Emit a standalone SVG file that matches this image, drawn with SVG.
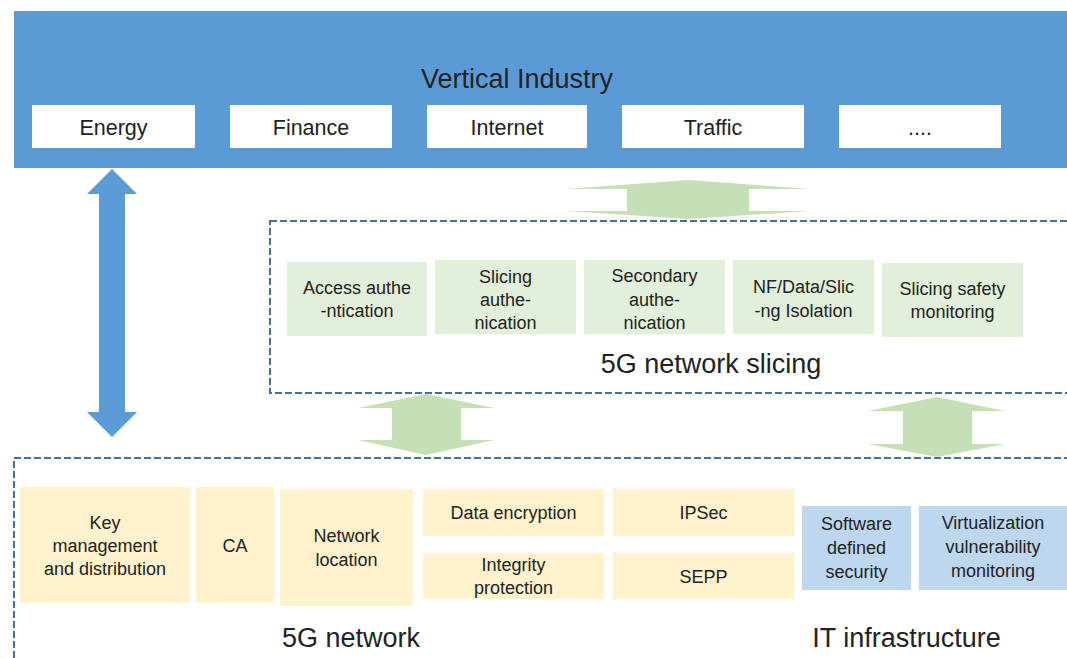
<svg xmlns="http://www.w3.org/2000/svg" width="1067" height="658" viewBox="0 0 1067 658">
<style>
text{font-family:"Liberation Sans",Arial,sans-serif;fill:#222;text-anchor:middle}
.lbl{font-size:21.5px}
.big{font-size:27px}
.bx{font-size:18px}
.white{fill:#fff}
.slice{fill:#e2efda}
.yel{fill:#fff2cc}
.lb{fill:#bdd7ee}
.dash{fill:none;stroke:#41719c;stroke-width:2;stroke-dasharray:7 3}
.garrow{fill:#c5e0b4}
.barrow{fill:#5b9bd5}
</style>
<rect width="1067" height="658" fill="#fff"/>
<g id="vertical-industry">
<rect x="14" y="11" width="1060" height="157" fill="#5b9bd5"/>
<text class="big" x="517" y="88">Vertical Industry</text>
</g>
<g id="energy"><rect class="white" x="32" y="105" width="163" height="43"/><text class="lbl" x="113.5" y="135">Energy</text></g>
<g id="finance"><rect class="white" x="230" y="105" width="162" height="43"/><text class="lbl" x="311" y="135">Finance</text></g>
<g id="internet"><rect class="white" x="427" y="105" width="160" height="43"/><text class="lbl" x="507" y="135">Internet</text></g>
<g id="traffic"><rect class="white" x="622" y="105" width="182" height="43"/><text class="lbl" x="713" y="135">Traffic</text></g>
<g id="more"><rect class="white" x="839" y="105" width="162" height="43"/><text class="lbl" x="920" y="135">....</text></g>

<g id="network-slicing">
<rect class="dash" x="270" y="221" width="810" height="172"/>
<text class="big" x="711" y="373">5G network slicing</text>
</g>
<g id="access-auth"><rect class="slice" x="287" y="262" width="140" height="74"/><text class="bx" x="357" y="294">Access authe</text><text class="bx" x="357" y="317">-ntication</text></g>
<g id="slicing-auth"><rect class="slice" x="435" y="260" width="141" height="74"/><text class="bx" x="505.5" y="283">Slicing</text><text class="bx" x="505.5" y="306">authe-</text><text class="bx" x="505.5" y="329">nication</text></g>
<g id="secondary-auth"><rect class="slice" x="584" y="260" width="141" height="74"/><text class="bx" x="654.5" y="282">Secondary</text><text class="bx" x="654.5" y="306">authe-</text><text class="bx" x="654.5" y="329">nication</text></g>
<g id="isolation"><rect class="slice" x="733" y="260" width="141" height="74"/><text class="bx" x="803.5" y="293">NF/Data/Slic</text><text class="bx" x="803.5" y="317">-ng Isolation</text></g>
<g id="slicing-monitoring"><rect class="slice" x="882" y="263" width="141" height="74"/><text class="bx" x="952.5" y="295">Slicing safety</text><text class="bx" x="952.5" y="318">monitoring</text></g>

<g id="network-5g">
<rect class="dash" x="14" y="458" width="1070" height="220"/>
<text class="big" x="351" y="647">5G network</text>
<text class="big" x="906.5" y="647">IT infrastructure</text>
</g>
<g id="key-mgmt"><rect class="yel" x="20" y="487" width="170" height="116"/><text class="bx" x="105" y="529">Key</text><text class="bx" x="105" y="552">management</text><text class="bx" x="105" y="575">and distribution</text></g>
<g id="ca"><rect class="yel" x="196" y="487" width="78" height="116"/><text class="bx" x="235" y="552">CA</text></g>
<g id="net-location"><rect class="yel" x="280" y="489" width="133" height="117"/><text class="bx" x="346.5" y="542">Network</text><text class="bx" x="346.5" y="566">location</text></g>
<g id="data-encryption"><rect class="yel" x="423" y="489" width="181" height="47"/><text class="bx" x="513.5" y="519">Data encryption</text></g>
<g id="integrity"><rect class="yel" x="423" y="553" width="181" height="46"/><text class="bx" x="513.5" y="571">Integrity</text><text class="bx" x="513.5" y="594">protection</text></g>
<g id="ipsec"><rect class="yel" x="613" y="489" width="181" height="47"/><text class="bx" x="703.5" y="519">IPSec</text></g>
<g id="sepp"><rect class="yel" x="613" y="553" width="181" height="46"/><text class="bx" x="703.5" y="583">SEPP</text></g>
<g id="sds"><rect class="lb" x="802" y="506" width="109" height="84"/><text class="bx" x="856.5" y="530">Software</text><text class="bx" x="856.5" y="554">defined</text><text class="bx" x="856.5" y="578">security</text></g>
<g id="virt-monitoring"><rect class="lb" x="919" y="506" width="150" height="84"/><text class="bx" x="993" y="529">Virtualization</text><text class="bx" x="993" y="553">vulnerability</text><text class="bx" x="993" y="577">monitoring</text></g>

<g id="connectors">
<polygon class="barrow" points="112,169 87,194 99,194 99,412 87,412 112,437 137,412 125,412 125,194 137,194"/>
<polygon class="garrow" points="688,180 810,189 749,189 749,211 810,211 688,219 566,211 627,211 627,189 566,189"/>
<polygon class="garrow" points="426,394 494,408 461,408 461,440 494,440 426,455 358,440 392,440 392,408 358,408"/>
<polygon class="garrow" points="937,397 1005,411 972,411 972,444 1005,444 937,457 868,444 903,444 903,411 868,411"/>
</g>
</svg>
